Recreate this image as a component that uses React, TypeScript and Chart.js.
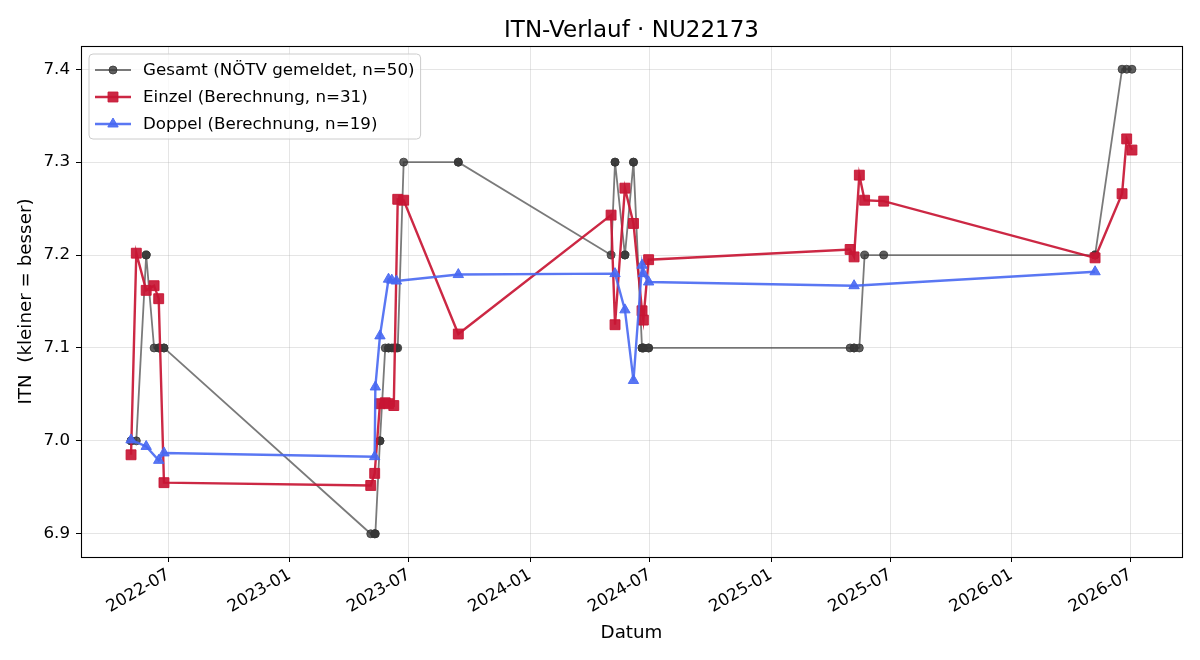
import React, { useEffect, useRef } from "react";
import { Chart, registerables } from "chart.js";

Chart.register(...registerables);

// ---------- data ----------
const titleText = "ITN-Verlauf · NU22173";
const xAxisTitle = "Datum";
const yAxisTitle = "ITN  (kleiner = besser)";
const seriesLabels = [
  "Gesamt (NÖTV gemeldet, n=50)",
  "Einzel (Berechnung, n=31)",
  "Doppel (Berechnung, n=19)",
];

const gesamtDates = [
  "2022-05-05", "2022-05-05", "2022-05-13", "2022-05-28", "2022-05-28",
  "2022-06-09", "2022-06-16", "2022-06-16", "2022-06-24", "2022-06-24",
  "2023-05-04", "2023-05-10", "2023-05-10", "2023-05-11", "2023-05-18",
  "2023-05-18", "2023-05-26", "2023-05-31", "2023-05-31", "2023-06-05",
  "2023-06-08", "2023-06-12", "2023-06-14", "2023-06-23", "2023-09-14",
  "2023-09-14", "2024-05-03", "2024-05-09", "2024-05-09", "2024-05-24",
  "2024-05-24", "2024-06-06", "2024-06-06", "2024-06-19", "2024-06-19",
  "2024-06-21", "2024-06-21", "2024-06-29", "2024-06-29", "2025-05-01",
  "2025-05-07", "2025-05-07", "2025-05-15", "2025-05-23", "2025-06-21",
  "2026-05-08", "2026-05-08", "2026-06-18", "2026-06-25", "2026-07-03",
];
const gesamtValues = [
  7.0, 7.0, 7.0, 7.2, 7.2,
  7.1, 7.1, 7.1, 7.1, 7.1,
  6.9, 6.9, 6.9, 6.9, 7.0,
  7.0, 7.1, 7.1, 7.1, 7.1,
  7.1, 7.1, 7.1, 7.3, 7.3,
  7.3, 7.2, 7.3, 7.3, 7.2,
  7.2, 7.3, 7.3, 7.1, 7.1,
  7.1, 7.1, 7.1, 7.1, 7.1,
  7.1, 7.1, 7.1, 7.2, 7.2,
  7.2, 7.2, 7.4, 7.4, 7.4,
];

const einzelDates = [
  "2022-05-05", "2022-05-13", "2022-05-28", "2022-06-09", "2022-06-16", "2022-06-24",
  "2023-05-04", "2023-05-10", "2023-05-18", "2023-05-26", "2023-05-31", "2023-06-08",
  "2023-06-14", "2023-06-23", "2023-09-14",
  "2024-05-03", "2024-05-09", "2024-05-24", "2024-06-06", "2024-06-19", "2024-06-21", "2024-06-29",
  "2025-05-01", "2025-05-07", "2025-05-15", "2025-05-23", "2025-06-21",
  "2026-05-08", "2026-06-18", "2026-06-25", "2026-07-03",
];
const einzelValues = [
  6.985, 7.202, 7.162, 7.167, 7.153, 6.955,
  6.952, 6.965, 7.040, 7.041, 7.040, 7.038,
  7.260, 7.259, 7.115,
  7.243, 7.125, 7.272, 7.234, 7.140, 7.130, 7.195,
  7.206, 7.198, 7.286, 7.259, 7.258,
  7.197, 7.266, 7.325, 7.313,
];

const doppelDates = [
  "2022-05-05", "2022-05-28", "2022-06-16", "2022-06-24",
  "2023-05-10", "2023-05-11", "2023-05-18", "2023-05-31", "2023-06-05", "2023-06-12", "2023-09-14",
  "2024-05-09", "2024-05-24", "2024-06-06", "2024-06-19", "2024-06-21", "2024-06-29",
  "2025-05-07",
  "2026-05-08",
];
const doppelValues = [
  7.001, 6.994, 6.979, 6.987,
  6.983, 7.058, 7.113, 7.174, 7.173, 7.172, 7.179,
  7.180, 7.141, 7.065, 7.189, 7.180, 7.171,
  7.167,
  7.182,
];

const xTickLabels = [
  "2022-07", "2023-01", "2023-07", "2024-01", "2024-07",
  "2025-01", "2025-07", "2026-01", "2026-07",
];
const yTickValues = [6.9, 7.0, 7.1, 7.2, 7.3, 7.4];

// ---------- helpers ----------
const toTime = (s: string) => {
  const [y, m, d] = s.split("-").map(Number);
  return Date.UTC(y, m - 1, d || 1);
};
const toPoints = (dates: string[], vals: number[]) =>
  dates.map((d, i) => ({ x: toTime(d), y: vals[i] }));

const FONT = "'DejaVu Sans', 'Liberation Sans', sans-serif";
const TICK_SIZE = 16.7;
const LABEL_SIZE = 18.3;
const TITLE_SIZE = 23;
const GREY_LINE = "rgba(70,70,70,0.72)";
const GREY_MARK = "rgba(55,55,55,0.8)";
const RED = "rgba(200,22,52,0.92)";
const BLUE = "rgba(72,104,242,0.9)";

const allTimes = [...gesamtDates, ...einzelDates, ...doppelDates].map(toTime);
const allVals = [...gesamtValues, ...einzelValues, ...doppelValues];
const tMin = Math.min(...allTimes);
const tMax = Math.max(...allTimes);
const vMin = Math.min(...allVals);
const vMax = Math.max(...allVals);
const xMin = tMin - 0.05 * (tMax - tMin);
const xMax = tMax + 0.05 * (tMax - tMin);
const yMin = vMin - 0.05 * (vMax - vMin);
const yMax = vMax + 0.05 * (vMax - vMin);

function drawMarker(ctx: CanvasRenderingContext2D, kind: string, x: number, y: number) {
  ctx.beginPath();
  if (kind === "circle") {
    ctx.arc(x, y, 4, 0, Math.PI * 2);
  } else if (kind === "rect") {
    const s = 7 * Math.SQRT1_2;
    ctx.rect(x - s, y - s, 2 * s, 2 * s);
  } else {
    const r = 6;
    let rad = 0;
    ctx.moveTo(x + Math.sin(rad) * r, y - Math.cos(rad) * r);
    rad += (2 * Math.PI) / 3;
    ctx.lineTo(x + Math.sin(rad) * r, y - Math.cos(rad) * r);
    rad += (2 * Math.PI) / 3;
    ctx.lineTo(x + Math.sin(rad) * r, y - Math.cos(rad) * r);
    ctx.closePath();
  }
  ctx.fill();
  ctx.stroke();
}

const decorPlugin = {
  id: "decor",
  afterDraw(chart: any) {
    const ctx: CanvasRenderingContext2D = chart.ctx;
    const a = chart.chartArea;
    ctx.save();
    // frame (all four spines)
    ctx.strokeStyle = "#000";
    ctx.lineWidth = 1.1;
    ctx.strokeRect(Math.round(a.left) + 0.5, Math.round(a.top) + 0.5,
      Math.round(a.right - a.left), Math.round(a.bottom - a.top));
    // title
    ctx.fillStyle = "#000";
    ctx.font = `${TITLE_SIZE}px ${FONT}`;
    ctx.textAlign = "center";
    ctx.textBaseline = "alphabetic";
    ctx.fillText(titleText, (a.left + a.right) / 2, 37);

    // legend
    ctx.font = `${TICK_SIZE}px ${FONT}`;
    const widths = seriesLabels.map((t) => ctx.measureText(t).width);
    const lx = a.left + 8;
    const ly = a.top + 8;
    const bw = 54 + Math.max(...widths) + 6;
    const bh = 85;
    ctx.beginPath();
    const r = 4;
    ctx.moveTo(lx + r, ly);
    ctx.lineTo(lx + bw - r, ly);
    ctx.quadraticCurveTo(lx + bw, ly, lx + bw, ly + r);
    ctx.lineTo(lx + bw, ly + bh - r);
    ctx.quadraticCurveTo(lx + bw, ly + bh, lx + bw - r, ly + bh);
    ctx.lineTo(lx + r, ly + bh);
    ctx.quadraticCurveTo(lx, ly + bh, lx, ly + bh - r);
    ctx.lineTo(lx, ly + r);
    ctx.quadraticCurveTo(lx, ly, lx + r, ly);
    ctx.closePath();
    ctx.fillStyle = "rgba(255,255,255,0.8)";
    ctx.fill();
    ctx.strokeStyle = "#cccccc";
    ctx.lineWidth = 1;
    ctx.stroke();

    const styles = [
      { line: GREY_LINE, mark: GREY_MARK, lw: 1.8, kind: "circle" },
      { line: RED, mark: RED, lw: 2.4, kind: "rect" },
      { line: BLUE, mark: BLUE, lw: 2.4, kind: "triangle" },
    ];
    seriesLabels.forEach((t, i) => {
      const cy = ly + 16 + i * 27;
      const st = styles[i];
      ctx.strokeStyle = st.line;
      ctx.lineWidth = st.lw;
      ctx.beginPath();
      ctx.moveTo(lx + 6, cy);
      ctx.lineTo(lx + 42, cy);
      ctx.stroke();
      ctx.fillStyle = st.mark;
      ctx.strokeStyle = st.mark;
      ctx.lineWidth = 1;
      drawMarker(ctx, st.kind, lx + 24, cy);
      ctx.fillStyle = "#000";
      ctx.textAlign = "left";
      ctx.textBaseline = "middle";
      ctx.fillText(t, lx + 54, cy + 1);
    });
    ctx.restore();
  },
};

export default function App() {
  const ref = useRef<HTMLCanvasElement | null>(null);

  useEffect(() => {
    document.body.style.margin = "0";
    const canvas = ref.current;
    if (!canvas) return;
    Chart.defaults.font.family = FONT;
    Chart.defaults.font.size = TICK_SIZE;
    Chart.defaults.color = "#000";

    const xTickTimes = xTickLabels.map(toTime);

    const chart = new Chart(canvas, {
      type: "line",
      data: {
        datasets: [
          {
            label: seriesLabels[0],
            data: toPoints(gesamtDates, gesamtValues),
            borderColor: GREY_LINE,
            borderWidth: 1.8,
            pointStyle: "circle",
            pointRadius: 4,
            pointBackgroundColor: GREY_MARK,
            pointBorderColor: GREY_MARK,
            pointBorderWidth: 1,
            tension: 0,
            order: 3,
          },
          {
            label: seriesLabels[1],
            data: toPoints(einzelDates, einzelValues),
            borderColor: RED,
            borderWidth: 2.4,
            pointStyle: "rect",
            pointRadius: 7,
            pointBackgroundColor: RED,
            pointBorderColor: RED,
            pointBorderWidth: 1,
            tension: 0,
            order: 2,
          },
          {
            label: seriesLabels[2],
            data: toPoints(doppelDates, doppelValues),
            borderColor: BLUE,
            borderWidth: 2.4,
            pointStyle: "triangle",
            pointRadius: 6,
            pointBackgroundColor: BLUE,
            pointBorderColor: BLUE,
            pointBorderWidth: 1,
            tension: 0,
            order: 1,
          },
        ],
      },
      options: {
        responsive: false,
        animation: false,
        devicePixelRatio: 1,
        layout: { padding: { top: 46, right: 18, left: 0, bottom: 0 } },
        plugins: {
          legend: { display: false },
          title: { display: false },
          tooltip: { enabled: false },
        },
        scales: {
          x: {
            type: "linear",
            min: xMin,
            max: xMax,
            afterFit: (s: any) => {
              s.height = 103;
            },
            afterBuildTicks: (s: any) => {
              s.ticks = xTickTimes.map((v) => ({ value: v }));
            },
            ticks: {
              autoSkip: false,
              maxRotation: 30,
              minRotation: 30,
              padding: 3,
              font: { size: TICK_SIZE },
              color: "#000",
              callback: (_v: any, i: number) => xTickLabels[i],
            },
            grid: {
              color: "rgba(176,176,176,0.33)",
              lineWidth: 1,
              tickColor: "#000",
              tickLength: 5,
            },
            border: { display: false },
            title: {
              display: true,
              text: xAxisTitle,
              font: { size: LABEL_SIZE },
              color: "#000",
              padding: { top: 0, bottom: 16 },
            },
          },
          y: {
            type: "linear",
            min: yMin,
            max: yMax,
            afterFit: (s: any) => {
              s.width = 81;
            },
            afterBuildTicks: (s: any) => {
              s.ticks = yTickValues.map((v) => ({ value: v }));
            },
            ticks: {
              padding: 6,
              font: { size: TICK_SIZE },
              color: "#000",
              callback: (v: any) => Number(v).toFixed(1),
            },
            grid: {
              color: "rgba(176,176,176,0.33)",
              lineWidth: 1,
              tickColor: "#000",
              tickLength: 5,
            },
            border: { display: false },
            title: {
              display: true,
              text: yAxisTitle,
              font: { size: LABEL_SIZE },
              color: "#000",
              padding: { top: 15, bottom: 0 },
            },
          },
        },
      },
      plugins: [decorPlugin],
    } as any);

    return () => chart.destroy();
  }, []);

  return (
    <div style={{ width: 1200, height: 660 }}>
      <canvas ref={ref} width={1200} height={660} style={{ display: "block" }} />
    </div>
  );
}
